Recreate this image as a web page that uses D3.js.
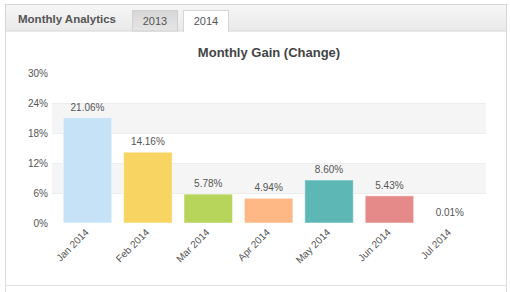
<!DOCTYPE html>
<html><head><meta charset="utf-8">
<script src="https://cdn.jsdelivr.net/npm/d3@7/dist/d3.min.js"></script>
<style>
html,body{margin:0;padding:0;background:#fff;}
svg{display:block;font-family:"Liberation Sans",Arial,sans-serif;}
</style></head>
<body>
<svg id="c" width="510" height="292"></svg>
<script>
const categories = ["Jan 2014","Feb 2014","Mar 2014","Apr 2014","May 2014","Jun 2014","Jul 2014"];
const values = [21.06, 14.16, 5.78, 4.94, 8.60, 5.43, 0.01];
const colors = ["#c6e2f7","#f8d463","#b7d45b","#feb886","#5db8b5","#e68a89","#c6e2f7"];
const yTicks = [0, 6, 12, 18, 24, 30];
const tabs = ["2013","2014"];

const svg = d3.select("#c");
const defs = svg.append("defs");
const g1 = defs.append("linearGradient").attr("id","hdr").attr("x1",0).attr("y1",0).attr("x2",0).attr("y2",1);
g1.append("stop").attr("offset","0%").attr("stop-color","#f6f6f6");
g1.append("stop").attr("offset","100%").attr("stop-color","#e9e9e9");
const g2 = defs.append("linearGradient").attr("id","tab").attr("x1",0).attr("y1",0).attr("x2",0).attr("y2",1);
g2.append("stop").attr("offset","0%").attr("stop-color","#d6d6d6");
g2.append("stop").attr("offset","100%").attr("stop-color","#e6e6e6");

// panel frame
svg.append("rect").attr("x",5.5).attr("y",4.5).attr("width",501).attr("height",300)
  .attr("fill","#fff").attr("stroke","#dcdcdc");
svg.append("rect").attr("x",5.5).attr("y",4.5).attr("width",501).attr("height",26.5)
  .attr("fill","url(#hdr)").attr("stroke","#d6d6d6");
svg.append("line").attr("x1",5).attr("x2",507).attr("y1",285.5).attr("y2",285.5).attr("stroke","#e2e2e2");

svg.append("text").attr("x",18).attr("y",23).attr("font-size",11.5).attr("font-weight","bold")
  .attr("fill","#555").text("Monthly Analytics");

// tabs
const tabX = [132.5, 183.5];
tabs.forEach((t,i)=>{
  const active = i===1;
  svg.append("rect").attr("x",tabX[i]).attr("y",10.5).attr("width",45).attr("height",active?21:20.5)
    .attr("fill",active?"#fff":"url(#tab)").attr("stroke",active?"#d6d6d6":"#d0d0d0");
  if(active) svg.append("rect").attr("x",tabX[i]+0.5).attr("y",30).attr("width",44).attr("height",3).attr("fill","#fff");
  svg.append("text").attr("x",tabX[i]+22.5).attr("y",25).attr("text-anchor","middle")
    .attr("font-size",11).attr("fill","#555").text(t);
});

// chart title
svg.append("text").attr("x",269).attr("y",57).attr("text-anchor","middle").attr("font-size",13)
  .attr("font-weight","bold").attr("fill","#444").text("Monthly Gain (Change)");

const y = d3.scaleLinear().domain([0,30]).range([223,73]);
const x = d3.scaleBand().domain(categories).range([57.3,480]).paddingInner(0.18).paddingOuter(0.09);

// alternating bands
[[18,24],[6,12]].forEach(([a,b])=>{
  svg.append("rect").attr("x",52).attr("width",434).attr("y",y(b)).attr("height",y(a)-y(b)).attr("fill","#f5f5f5");
  svg.append("line").attr("x1",52).attr("x2",486).attr("y1",y(b)+0.5).attr("y2",y(b)+0.5).attr("stroke","#ededed");
  svg.append("line").attr("x1",52).attr("x2",486).attr("y1",y(a)+0.5).attr("y2",y(a)+0.5).attr("stroke","#ededed");
});

// y axis
const yAxis = d3.axisLeft(y).tickValues(yTicks).tickFormat(d=>d+"%").tickSize(0).tickPadding(0);
const ya = svg.append("g").attr("transform","translate(48,0)").call(yAxis);
ya.select(".domain").remove();
ya.selectAll("text").attr("font-size",10).attr("fill","#555").attr("font-family","Liberation Sans, Arial, sans-serif");

// bars
svg.selectAll("rect.bar").data(values).enter().append("rect").attr("class","bar")
  .attr("x",(d,i)=>x(categories[i])+0.5).attr("width",x.bandwidth()-1)
  .attr("y",d=>y(d)).attr("height",d=>Math.max(0,y(0)-y(d)))
  .attr("fill",(d,i)=>colors[i]).attr("stroke","rgba(255,255,255,0.5)").attr("stroke-width",1);

// data labels
svg.selectAll("text.lbl").data(values).enter().append("text").attr("class","lbl")
  .attr("x",(d,i)=>x(categories[i])+x.bandwidth()/2).attr("y",d=>y(d)-7)
  .attr("text-anchor","middle").attr("font-size",10).attr("fill","#555")
  .text(d=>d.toFixed(2)+"%");

// x axis
const xAxis = d3.axisBottom(x).tickSize(0).tickPadding(0);
const xa = svg.append("g").attr("transform","translate(0,223)").call(xAxis);
xa.select(".domain").remove();
xa.selectAll("text").attr("font-size",10).attr("fill","#555").attr("font-family","Liberation Sans, Arial, sans-serif")
  .attr("text-anchor","end").attr("dy",null).attr("y",0)
  .attr("transform","translate(2,10) rotate(-45)");
</script>
</body></html>
